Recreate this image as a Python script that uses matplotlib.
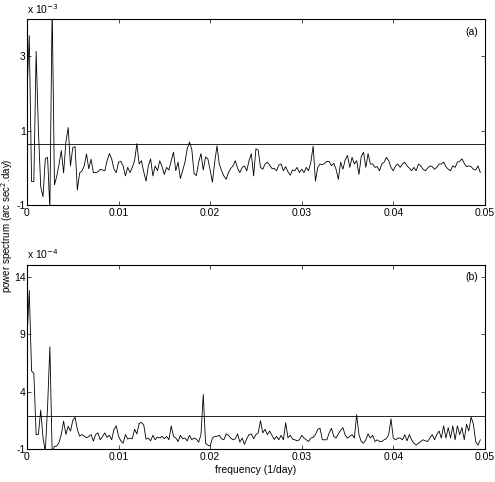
import matplotlib
matplotlib.use('Agg')
import matplotlib.pyplot as plt
import numpy as np

plt.rcParams['font.family'] = ['Liberation Sans', 'DejaVu Sans']

# frequency grid (1/day)
df = 0.00025

# (a) power spectrum, units of 1e-3
power_a = [
    2.0, 3.56, -0.36, -0.36, 3.14, 1.0, -0.5, -0.77, 0.25, 0.29,
    -1.1, 4.4, -0.45, -0.22, 0.10, 0.47, -0.13, 0.70, 1.09, 0.06,
    0.55, 0.58, -0.59, -0.13, -0.08, 0.06, 0.38, -0.02, 0.24, -0.12,
    -0.12, -0.10, -0.03, -0.05, -0.07, 0.20, 0.39, 0.25, -0.03, -0.12,
    0.16, 0.18, 0.06, -0.21, 0.02, -0.12, 0.02, 0.20, 0.66, 0.11,
    0.20, -0.10, -0.35, 0.06, 0.25, -0.21, 0.06, -0.07, 0.20, 0.04,
    -0.17, 0.02, -0.05, 0.20, 0.43, -0.07, 0.16, -0.28, -0.07, 0.16,
    0.52, 0.70, 0.50, -0.15, -0.20, 0.16, 0.39, -0.05, 0.30, 0.25,
    -0.05, -0.38, 0.16, 0.60, 0.11, -0.07, -0.21, -0.30, -0.12, -0.01,
    0.06, 0.20, -0.01, -0.12, 0.02, 0.06, -0.07, 0.20, 0.39, -0.21,
    0.52, 0.48, 0.02, -0.03, 0.11, 0.16, 0.08, -0.01, -0.01, -0.07,
    0.08, 0.11, -0.07, 0.04, -0.10, -0.19, -0.05, -0.07, 0.02, -0.12,
    -0.03, -0.12, 0.02, -0.07, 0.16, 0.59, -0.35, 0.02, 0.11, 0.09,
    0.13, 0.18, 0.18, 0.06, 0.13, -0.03, -0.30, 0.16, -0.03, 0.22,
    0.34, 0.02, 0.29, 0.11, 0.20, -0.17, 0.31, 0.43, 0.02, 0.39,
    0.11, 0.11, 0.02, 0.04, -0.07, 0.11, 0.16, 0.29, 0.20, 0.02,
    -0.07, 0.06, 0.11, 0.02, 0.11, 0.16, 0.06, 0.00, -0.07, 0.02,
    -0.07, 0.11, 0.06, -0.03, -0.07, 0.00, 0.06, 0.04, -0.03, 0.02,
    0.11, 0.11, 0.16, 0.04, -0.03, -0.07, 0.06, 0.02, 0.16, 0.18,
    0.25, 0.13, 0.04, 0.06, 0.04, -0.03, -0.05, 0.06, -0.12,
]
level_a = 0.64

# (b) power spectrum, units of 1e-4
power_b = [
    8.5, 12.8, 5.8, 5.6, 0.26, 0.3, 2.4, 0.0, -1.2, 2.7,
    7.9, -1.3, -0.74, -0.74, -0.40, 0.28, 1.44, 0.28, 1.0, 0.57,
    1.5, 1.79, 0.71, 0.13, 0.28, 0.13, -0.01, 0.10, 0.28, -0.30,
    0.27, 0.42, -0.18, 0.12, 0.42, 0.03, 0.21, -0.18, 0.73, 1.03,
    0.12, -0.27, -0.48, 0.27, -0.12, -0.03, -0.09, 0.73, 0.33, 1.24,
    1.33, 1.12, -0.12, -0.03, -0.27, 0.21, -0.18, 0.06, -0.03, 0.12,
    -0.09, 0.12, -0.18, 1.03, 0.12, -0.03, -0.33, 0.21, -0.09, -0.03,
    -0.27, 0.21, -0.18, -0.03, -0.12, -0.39, 0.27, 3.76, -0.48, -0.64,
    -0.73, -0.03, 0.12, 0.12, 0.21, -0.09, -0.18, 0.33, 0.21, -0.03,
    -0.18, -0.09, 0.33, -0.39, -0.03, -0.58, -0.09, 0.27, 0.33, -0.09,
    0.27, 0.42, 1.48, 0.42, 0.73, 0.27, 0.58, 0.21, -0.15, 0.12,
    -0.18, 0.21, -0.18, 1.3, 0.0, 0.21, -0.12, -0.18, -0.27, -0.18,
    0.21, -0.03, -0.18, -0.33, -0.03, 0.03, 0.27, 0.73, 0.82, -0.18,
    -0.18, -0.18, 0.42, 0.82, 0.12, -0.03, 0.33, 0.64, 0.88, 0.21,
    -0.03, 0.12, 0.27, -0.03, 2.0, 0.27, -0.33, -0.48, -0.18, 0.33,
    -0.03, 0.21, -0.33, -0.18, -0.33, -0.33, -0.18, -0.09, 0.27, 1.64,
    -0.03, -0.18, -0.03, -0.03, -0.18, 0.27, -0.27, 0.27, -0.18, -0.48,
    -0.64, -0.48, -0.33, -0.18, -0.27, -0.33, -0.03, 0.27, -0.18, 0.27,
    0.58, -0.03, 1.03, -0.03, 0.88, -0.03, 1.03, -0.18, 1.03, 0.27,
    0.88, -0.18, 1.18, 0.58, 1.79, 1.18, -0.33, -0.64, -0.18,
]
level_b = 1.9

freq = np.arange(len(power_a)) * df

fig = plt.figure(figsize=(4.95, 4.82), dpi=100)

panels = [
    # data, level, ylim, yticks, exponent, tag, [left, bottom, width, height]
    (power_a, level_a, (-1, 4), [-1, 1, 3], '-3', '(a)', [0.0545, 0.574, 0.925, 0.386]),
    (power_b, level_b, (-1, 15), [-1, 4, 9, 14], '-4', '(b)', [0.0545, 0.068, 0.925, 0.382]),
]

for data, level, ylim, yticks, expo, tag, rect in panels:
    ax = fig.add_axes(rect)
    ax.plot(freq, data, color='black', lw=0.6)
    ax.axhline(level, color='black', lw=0.6)
    ax.set_xlim(0, 0.05)
    ax.set_ylim(*ylim)
    ax.set_xticks([0, 0.01, 0.02, 0.03, 0.04, 0.05])
    ax.set_xticklabels(['0', '0.01', '0.02', '0.03', '0.04', '0.05'])
    ax.set_yticks(yticks)
    ax.set_yticklabels([str(t) for t in yticks])
    ax.tick_params(direction='in', top=True, right=True, length=3,
                   width=0.5, labelsize=7.5, pad=2)
    ax.tick_params(axis='y', pad=1)
    for sp in ax.spines.values():
        sp.set_linewidth(0.8)
    ax.text(0.0, 1.02, 'x 10$^{' + expo + '}$', transform=ax.transAxes,
            fontsize=7.5, ha='left', va='bottom')
    ax.text(0.985, 0.96, tag, transform=ax.transAxes,
            fontsize=7.5, ha='right', va='top')
    last_ax = ax

last_ax.set_xlabel('frequency (1/day)', fontsize=7.5, labelpad=2)
fig.text(0.0135, 1 - 226 / 482, 'power spectrum (arc sec$^2$.day)',
         rotation=90, ha='center', va='center', fontsize=7)

fig.savefig('out.png', dpi=100)
